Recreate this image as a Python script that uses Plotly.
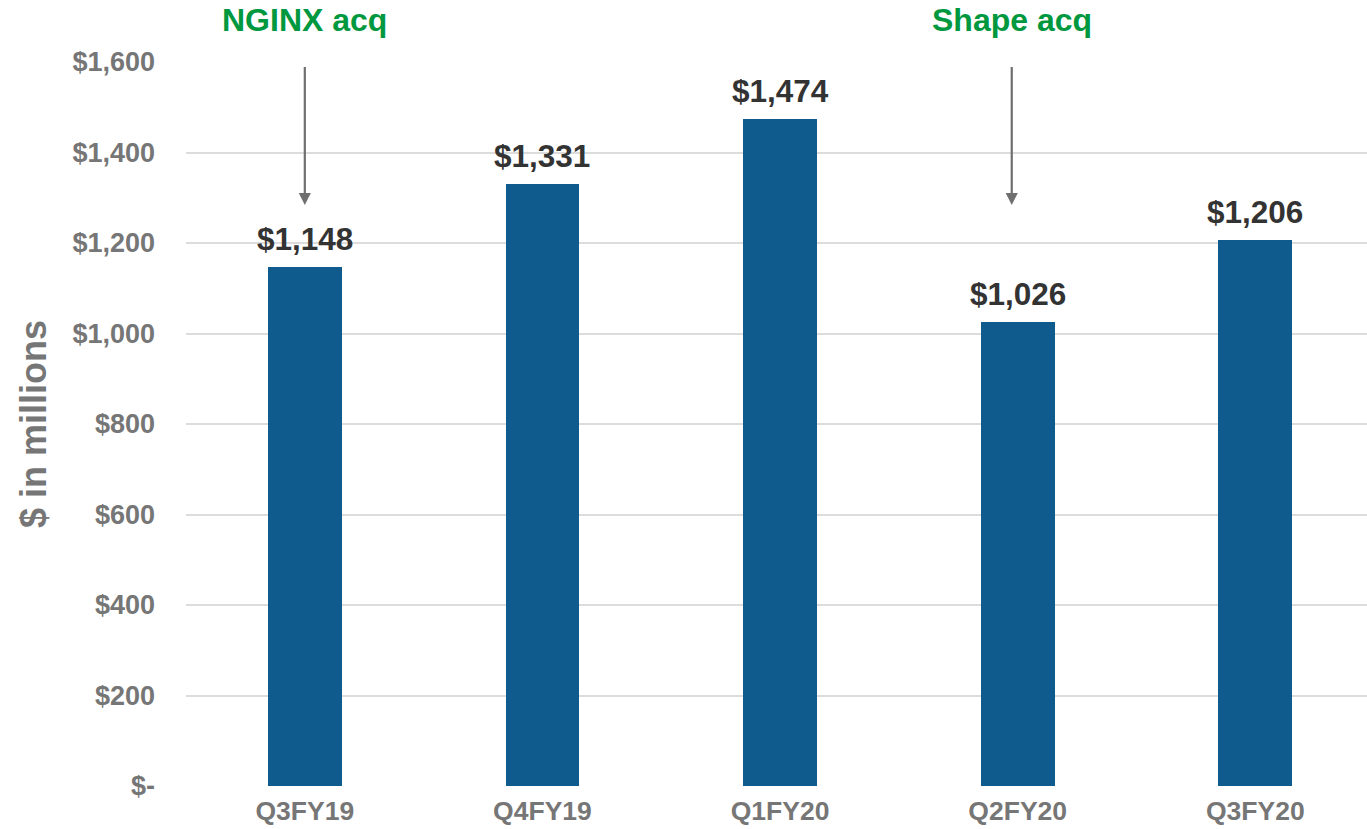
import plotly.graph_objects as go

categories = ["Q3FY19", "Q4FY19", "Q1FY20", "Q2FY20", "Q3FY20"]
revenue = [1148, 1331, 1474, 1026, 1206]
y_tick_vals = [0, 200, 400, 600, 800, 1000, 1200, 1400, 1600]
y_tick_text = ["$-", "$200", "$400", "$600", "$800", "$1,000", "$1,200", "$1,400", "$1,600"]
events = ["NGINX acq", "Shape acq"]
event_pos = [0.0, 2.975]

FONT = "Liberation Sans, Arial, sans-serif"
GRAY = "#767676"
GREEN = "#00983f"

fig = go.Figure()
fig.add_trace(go.Bar(
    x=list(range(len(categories))),
    y=revenue,
    width=0.31,
    marker=dict(color="#0f5b8d", line=dict(width=0)),
    hoverinfo="skip",
))

for i, v in enumerate(revenue):
    fig.add_annotation(
        x=i, y=v, xref="x", yref="y", yanchor="bottom", yshift=8,
        text=f"<b>${v:,}</b>", showarrow=False,
        font=dict(family=FONT, size=31.5, color="#333333"),
    )

for label, xp in zip(events, event_pos):
    fig.add_annotation(
        x=xp, y=1284, xref="x", yref="y",
        ax=xp, ay=1592, axref="x", ayref="y",
        text="", showarrow=True, arrowhead=2, arrowsize=1.1,
        arrowwidth=2.2, arrowcolor="#6f6f6f",
    )
    fig.add_annotation(
        x=xp, y=1.058, xref="x", yref="paper", yanchor="middle",
        text=f"<b>{label}</b>", showarrow=False,
        font=dict(family=FONT, size=32, color=GREEN),
    )

fig.update_layout(
    width=1367, height=829,
    margin=dict(l=186, r=0, t=62, b=43),
    paper_bgcolor="white", plot_bgcolor="white",
    showlegend=False,
    bargap=0,
    xaxis=dict(
        range=[-0.5, 4.47],
        tickvals=list(range(len(categories))),
        ticktext=[f"<b>{c}</b>" for c in categories],
        tickfont=dict(family=FONT, size=26.5, color=GRAY),
        showgrid=False, zeroline=False, showline=False,
        ticks="", ticklabelstandoff=6,
    ),
    yaxis=dict(
        range=[0, 1600],
        tickvals=y_tick_vals,
        ticktext=[f"<b>{t}</b>" for t in y_tick_text],
        tickfont=dict(family=FONT, size=27, color=GRAY),
        showgrid=True, gridcolor="#dcdcdc", gridwidth=1.5,
        zeroline=False, showline=False, ticks="",
        ticklabelstandoff=30,
        title=dict(text="<b>$ in millions</b>",
                   font=dict(family=FONT, size=36, color=GRAY),
                   standoff=14),
    ),
)

fig.write_html("out.html")
